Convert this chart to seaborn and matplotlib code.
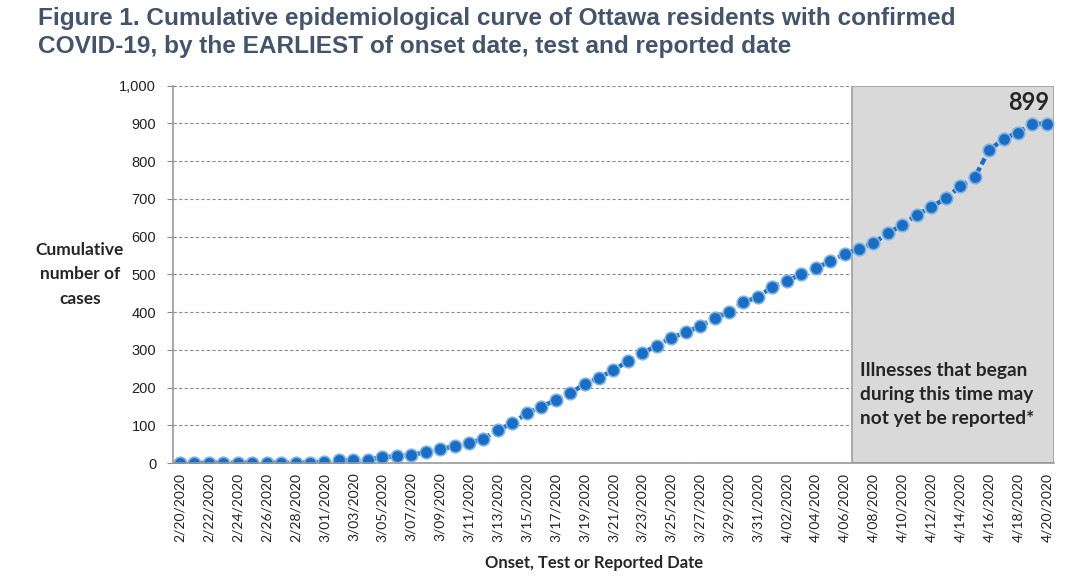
import pandas as pd
import matplotlib
matplotlib.use("Agg")
import matplotlib.pyplot as plt
import seaborn as sns

# data
dates = pd.date_range("2020-02-20", "2020-04-20", freq="D")
cases = [0, 0, 0, 1, 1, 1, 1, 1, 1, 1,
         3, 7, 7, 9, 15, 18, 21, 29, 37, 44,
         53, 64, 88, 105, 132, 149, 167, 185, 209, 226,
         246, 270, 291, 311, 332, 346, 363, 384, 399, 426,
         440, 467, 482, 501, 516, 535, 553, 568, 583, 609,
         631, 658, 678, 702, 733, 757, 829, 859, 876, 899,
         899]
shade_start = "4/07/2020"
last_label = "899"

date_labels = [f"{d.month}/{d.day:02d}/{d.year}" for d in dates]
df = pd.DataFrame({"pos": range(len(cases)), "date": date_labels, "cases": cases})

sns.set_style("white")
plt.rcParams["font.family"] = ["Liberation Sans", "DejaVu Sans"]

fig = plt.figure(figsize=(10.8, 5.8), dpi=100)
ax = fig.add_axes([0.160, 0.2017, 0.816, 0.6505])

blue = "#1A6DC2"
sns.lineplot(data=df, x="pos", y="cases", ax=ax, color=blue, lw=3.2,
             linestyle=(0, (1.5, 0.8)), marker="o", markersize=9,
             markerfacecolor=blue, markeredgecolor="#7EB3E3", markeredgewidth=1.2,
             zorder=4)

# shaded "not yet reported" region
s = date_labels.index(shade_start) - 0.5
ax.axvspan(s, len(cases) - 0.5, facecolor="#D9D9D9", edgecolor="#A0A0A0", lw=1.2, zorder=1)

ax.set_xlim(-0.5, len(cases) - 0.5)
ax.set_ylim(0, 1000)
ax.set_yticks(range(0, 1001, 100))
ax.set_yticklabels([f"{v:,}" for v in range(0, 1001, 100)], fontsize=10.5, color="#222222")
ax.yaxis.grid(True, linestyle=(0, (3, 2)), color="#8C8C8C", lw=0.8, zorder=0)
ax.set_axisbelow(True)

# labels every other day, tick marks between categories
ax.set_xticks(df["pos"][::2])
ax.set_xticklabels(df["date"][::2], rotation=90, fontsize=10,
                   family=["Lato", "DejaVu Sans"], color="#222222")
ax.set_xticks([p - 0.5 for p in range(2, len(cases), 2)], minor=True)
ax.tick_params(axis="x", which="major", length=0, pad=7)
ax.tick_params(axis="x", which="minor", length=5, color="#888888", direction="out")
ax.tick_params(axis="y", length=4, color="#888888", direction="out", left=True, pad=8)

for sp in ["top", "right"]:
    ax.spines[sp].set_visible(False)
for sp in ["left", "bottom"]:
    ax.spines[sp].set_color("#999999")
    ax.spines[sp].set_linewidth(1.2)
    ax.spines[sp].set_zorder(5)

ax.set_xlabel("Onset, Test or Reported Date", fontsize=12, fontweight="bold",
              family=["Lato", "DejaVu Sans"], va="center")
ax.xaxis.set_label_coords(0.478, -0.265)
ax.set_ylabel("")
fig.text(0.074, 0.527, "Cumulative\nnumber of\ncases", ha="center", va="center",
         fontsize=12.5, fontweight="bold", family=["Lato", "DejaVu Sans"],
         linespacing=1.65)

ax.text(len(cases) - 0.8, 925, last_label, ha="right", va="bottom", fontsize=17,
        fontweight="bold", family=["Lato", "DejaVu Sans"], zorder=6)
ax.text(s + 0.55, 268, "Illnesses that began\nduring this time may\nnot yet be reported*",
        ha="left", va="top", fontsize=13.8, fontweight="bold",
        family=["Lato", "DejaVu Sans"], linespacing=1.5, zorder=6)

fig.text(0.035, 0.988, "Figure 1. Cumulative epidemiological curve of Ottawa residents with confirmed\n"
         "COVID-19, by the EARLIEST of onset date, test and reported date",
         ha="left", va="top", fontsize=17.6, fontweight="bold", color="#44546A",
         linespacing=1.3)

fig.savefig("out.png", dpi=100)
